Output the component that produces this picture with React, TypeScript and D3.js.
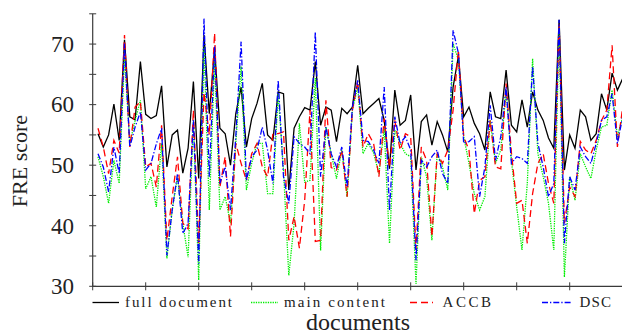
import React from "react";
import * as d3 from "d3";

// FRE score per document (documents 1..100)
const fullDocument = [
  55.2, 53.0, 55.0, 60.1, 54.1, 70.7, 58.0, 57.5, 67.1, 58.4,
  57.7, 58.2, 63.1, 49.7, 55.0, 55.8, 48.7, 52.8, 63.8, 47.8,
  71.5, 58.5, 69.3, 56.1, 55.2, 50.0, 58.5, 62.9, 53.0, 57.7,
  60.2, 63.5, 55.0, 54.1, 62.1, 61.8, 45.9, 56.1, 58.0, 59.5,
  59.1, 67.1, 56.6, 59.6, 59.1, 53.9, 59.4, 58.5, 59.6, 66.5,
  58.5, 59.4, 60.2, 61.0, 57.4, 49.4, 62.4, 56.6, 57.4, 61.6,
  49.2, 57.2, 58.3, 53.3, 57.2, 55.0, 52.2, 62.9, 68.0, 58.0,
  59.6, 56.9, 55.2, 52.5, 62.1, 58.0, 57.7, 65.7, 56.6, 55.5,
  60.8, 56.3, 62.1, 59.1, 57.4, 54.5, 52.8, 74.0, 49.2, 55.0,
  52.8, 59.1, 58.0, 54.1, 55.2, 61.8, 59.1, 65.2, 62.4, 64.3,
];
const mainContent = [
  51.4, 48.1, 43.7, 50.8, 47.0, 67.9, 53.6, 57.4, 60.7, 46.1,
  48.1, 43.1, 53.6, 34.6, 42.6, 48.1, 40.4, 34.8, 57.4, 31.0,
  69.6, 42.6, 67.4, 42.6, 44.8, 40.4, 53.6, 66.3, 45.9, 50.3,
  53.6, 53.6, 45.3, 45.3, 61.8, 49.2, 31.8, 40.4, 56.9, 47.2,
  47.5, 64.4, 35.9, 56.3, 51.9, 47.8, 52.5, 44.8, 59.1, 62.9,
  51.9, 53.6, 52.0, 48.6, 56.0, 37.1, 55.8, 53.6, 51.9, 51.4,
  30.4, 51.4, 48.1, 37.6, 51.9, 49.7, 45.9, 70.1, 67.4, 54.7,
  50.3, 45.3, 42.6, 44.8, 57.4, 50.3, 52.5, 62.4, 50.8, 43.1,
  36.0, 47.0, 67.6, 51.9, 48.1, 43.7, 36.0, 72.9, 31.5, 48.1,
  44.2, 51.9, 49.7, 47.8, 52.5, 56.3, 56.6, 62.4, 54.7, 58.0,
];
const accb = [
  56.1, 53.0, 48.6, 54.1, 52.0, 71.5, 53.0, 59.6, 60.5, 49.7,
  50.3, 46.4, 56.6, 37.6, 44.8, 51.4, 40.4, 39.5, 59.1, 37.1,
  62.0, 55.0, 71.8, 46.4, 51.4, 38.2, 53.6, 50.3, 47.5, 51.9,
  53.6, 49.7, 48.1, 55.2, 55.2, 55.5, 37.6, 41.5, 36.3, 44.2,
  59.1, 37.4, 37.6, 60.7, 49.6, 49.2, 52.5, 44.8, 59.1, 63.8,
  53.0, 55.2, 53.6, 48.1, 57.7, 49.7, 57.4, 52.5, 55.2, 54.7,
  36.0, 53.0, 50.8, 38.2, 51.9, 50.3, 52.5, 59.1, 69.0, 54.7,
  52.5, 42.0, 47.5, 48.1, 57.4, 49.7, 49.4, 63.5, 52.1, 43.7,
  44.2, 37.1, 45.3, 50.3, 51.9, 47.0, 43.7, 73.4, 40.4, 46.4,
  44.8, 53.9, 52.5, 51.9, 54.1, 57.4, 59.1, 69.8, 53.0, 59.6,
];
const dsc = [
  51.9, 49.7, 45.6, 53.0, 48.6, 70.1, 53.0, 56.3, 58.8, 49.2,
  50.3, 53.5, 56.1, 35.1, 42.6, 48.6, 38.7, 40.4, 57.4, 33.7,
  74.2, 48.1, 69.6, 47.0, 49.7, 42.6, 54.7, 70.4, 47.5, 51.4,
  52.5, 56.3, 52.5, 47.0, 64.0, 48.1, 43.7, 54.7, 53.6, 53.0,
  51.9, 72.0, 48.1, 56.3, 51.9, 49.7, 53.0, 46.4, 59.6, 64.0,
  54.1, 53.9, 52.5, 50.3, 62.9, 42.6, 58.0, 53.6, 54.7, 52.5,
  34.3, 50.8, 49.7, 51.4, 52.5, 48.6, 47.0, 72.3, 68.5, 53.6,
  53.9, 54.7, 44.8, 49.7, 59.9, 50.8, 54.7, 62.9, 50.3, 51.4,
  51.1, 50.3, 66.3, 53.6, 49.7, 44.8, 47.0, 74.0, 37.1, 48.1,
  45.9, 53.0, 51.4, 50.3, 53.6, 57.4, 58.0, 61.8, 53.6, 58.0,
];

const xTickValues = [0, 10, 20, 30, 40, 50, 60, 70, 80, 90, 100];
const yTickValues = [30, 35, 40, 45, 50, 55, 60, 65, 70, 75];
const yLabelValues = [30, 40, 50, 60, 70];

const series = [
  { name: "full document", values: fullDocument, color: "#000000", dash: "none", legendX: 92.5, legendW: 26.5, textX: 125, textW: 107 },
  { name: "main content", values: mainContent, color: "#00ee00", dash: "1.3,1.1", legendX: 251, legendW: 27, textX: 284, textW: 101 },
  { name: "ACCB", values: accb, color: "#ff0000", dash: "7,4", legendX: 410, legendW: 23, textX: 442.5, textW: 48.5 },
  { name: "DSC", values: dsc, color: "#0000ff", dash: "6,2,1.3,2", legendX: 542, legendW: 29.5, textX: 579.5, textW: 31.5 },
];

const width = 622;
const height = 334;
const axisColor = "#3a3a3a";

const App = () => {
  const x = d3.scaleLinear().domain([0, 100]).range([92.7, 622.7]);
  const y = d3.scaleLinear().domain([30, 75]).range([286.3, 13.8]);

  const line = d3
    .line<number>()
    .x((d, i) => x(i + 1))
    .y((d) => y(d));

  const x0 = x(0);
  const y0 = y(30);

  return (
    <div style={{ position: "absolute", left: 0, top: 0 }}>
      <svg width={width} height={height} style={{ display: "block", background: "#fff" }}>
        {series.map((s) => (
          <path
            key={s.name}
            d={line(s.values) || ""}
            fill="none"
            stroke={s.color}
            strokeWidth={1.3}
            strokeDasharray={s.dash}
            strokeLinejoin="miter"
          />
        ))}

        {/* y axis */}
        <line x1={x0} x2={x0} y1={y(75)} y2={y0} stroke={axisColor} strokeWidth={1.2} />
        {yTickValues.map((v) => (
          <line key={v} x1={x0 - 3.5} x2={x0 + 3.5} y1={y(v)} y2={y(v)} stroke={axisColor} strokeWidth={1} />
        ))}
        {yLabelValues.map((v) => (
          <text
            key={v}
            x={74}
            y={y(v)}
            dy="0.34em"
            textAnchor="end"
            fontFamily="Liberation Serif"
            fontSize={23}
            fill="#222"
          >
            {v}
          </text>
        ))}

        {/* x axis */}
        <line x1={x0} x2={width} y1={y0} y2={y0} stroke={axisColor} strokeWidth={1.2} />
        {xTickValues.map((v) => (
          <line key={v} x1={x(v)} x2={x(v)} y1={y0 - 4} y2={y0 + 4} stroke={axisColor} strokeWidth={1} />
        ))}

        {/* legend */}
        {series.map((s) => (
          <g key={s.name}>
            <line
              x1={s.legendX}
              x2={s.legendX + s.legendW}
              y1={302.5}
              y2={302.5}
              stroke={s.color}
              strokeWidth={1.3}
              strokeDasharray={s.dash}
            />
            <text
              x={s.textX}
              y={306.5}
              fontFamily="Liberation Serif"
              fontSize={15}
              fill="#222"
              textLength={s.textW}
              lengthAdjust="spacing"
            >
              {s.name}
            </text>
          </g>
        ))}

        {/* axis labels */}
        <text
          x={358}
          y={330}
          textAnchor="middle"
          fontFamily="Liberation Serif"
          fontSize={24}
          fill="#222"
        >
          documents
        </text>
        <text
          transform={`translate(27,161) rotate(-90)`}
          textAnchor="middle"
          fontFamily="Liberation Serif"
          fontSize={22}
          fill="#222"
        >
          FRE score
        </text>
      </svg>
    </div>
  );
};

export default App;
